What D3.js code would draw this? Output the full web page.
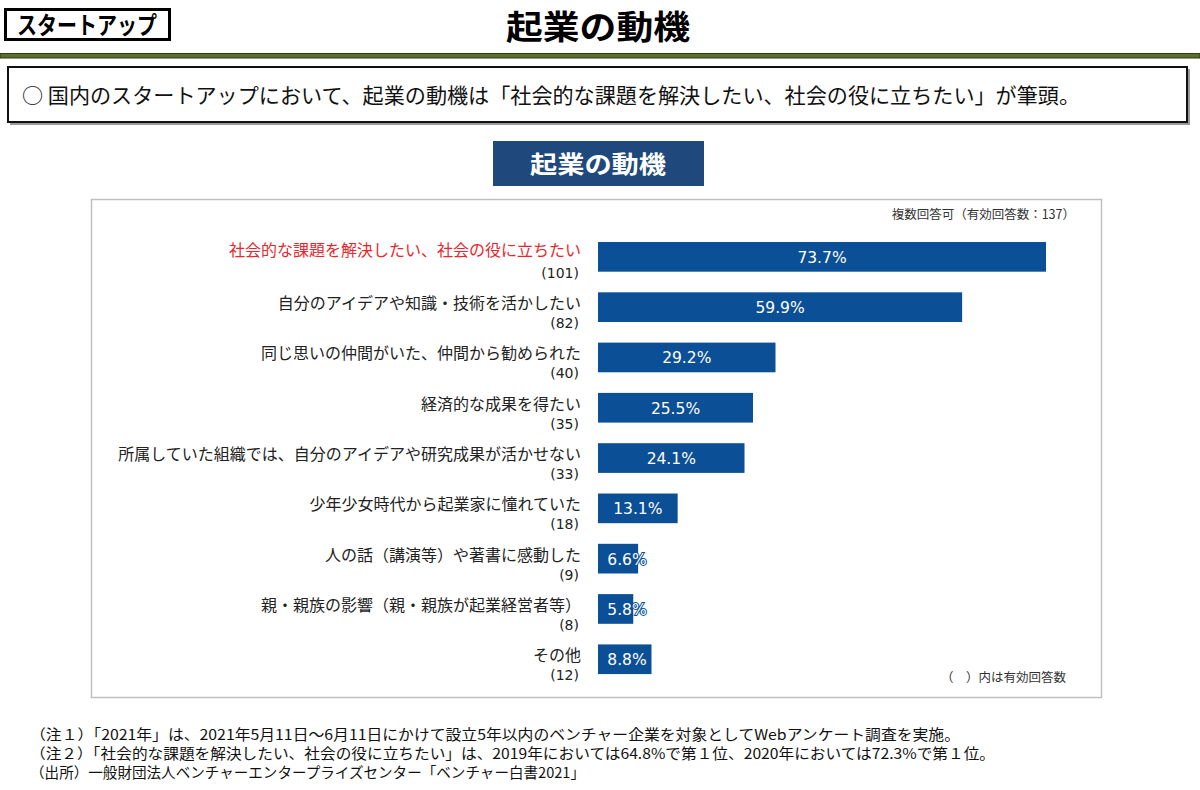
<!DOCTYPE html>
<html>
<head>
<meta charset="utf-8">
<script src="https://cdn.jsdelivr.net/npm/d3@7"></script>
<style>
    body { margin: 0; background: #fff; }
    svg { display: block; font-family: "Noto Sans CJK JP", sans-serif; }
</style>
</head>
<body>
<div id="chart"></div>
<script>
// motives, number of answers and share (%)
const categories = [
    "社会的な課題を解決したい、社会の役に立ちたい",
    "自分のアイデアや知識・技術を活かしたい",
    "同じ思いの仲間がいた、仲間から勧められた",
    "経済的な成果を得たい",
    "所属していた組織では、自分のアイデアや研究成果が活かせない",
    "少年少女時代から起業家に憧れていた",
    "人の話（講演等）や著書に感動した",
    "親・親族の影響（親・親族が起業経営者等）",
    "その他"
];
const counts = [101, 82, 40, 35, 33, 18, 9, 8, 12];
const values = [73.7, 59.9, 29.2, 25.5, 24.1, 13.1, 6.6, 5.8, 8.8];

const pageTag = "スタートアップ";
const pageTitle = "起業の動機";
const summary = "○ 国内のスタートアップにおいて、起業の動機は「社会的な課題を解決したい、社会の役に立ちたい」が筆頭。";
const chartTitle = "起業の動機";
const sampleNote = "複数回答可（有効回答数：137）";
const countNote = "（　）内は有効回答数";
const notes = [
    "（注１）「2021年」は、2021年5月11日～6月11日にかけて設立5年以内のベンチャー企業を対象としてWebアンケート調査を実施。",
    "（注２）「社会的な課題を解決したい、社会の役に立ちたい」は、2019年においては64.8%で第１位、2020年においては72.3%で第１位。",
    "（出所）一般財団法人ベンチャーエンタープライズセンター「ベンチャー白書2021」"
];

const W = 1200, H = 790;
const barColor = "#0b4f97";

const svg = d3.select("#chart").append("svg")
    .attr("width", W)
    .attr("height", H)
    .attr("viewBox", `0 0 ${W} ${H}`);

// ---- page header
svg.append("rect")
    .attr("x", 5.5).attr("y", 9.5).attr("width", 164).attr("height", 30)
    .attr("fill", "#fff").attr("stroke", "#000").attr("stroke-width", 3);
svg.append("text")
    .attr("x", 87).attr("y", 33.5)
    .attr("text-anchor", "middle")
    .attr("font-size", 24).attr("font-weight", 700)
    .attr("textLength", 140).attr("lengthAdjust", "spacingAndGlyphs")
    .text(pageTag);

svg.append("text")
    .attr("x", 598).attr("y", 39)
    .attr("text-anchor", "middle")
    .attr("font-size", 33).attr("font-weight", 700)
    .attr("textLength", 184).attr("lengthAdjust", "spacingAndGlyphs")
    .text(pageTitle);

svg.append("rect")
    .attr("x", 0).attr("y", 53.5).attr("width", W).attr("height", 4.5)
    .attr("fill", "#5b6e2e").attr("stroke", "#2e3a14").attr("stroke-width", 1);

// ---- summary box
svg.append("rect")
    .attr("x", 10).attr("y", 69).attr("width", 1180).attr("height", 56)
    .attr("fill", "#9a9a9a");
svg.append("rect")
    .attr("x", 8).attr("y", 67).attr("width", 1179).attr("height", 55)
    .attr("fill", "#fff").attr("stroke", "#111").attr("stroke-width", 2);
svg.append("text")
    .attr("x", 22).attr("y", 103)
    .attr("font-size", 21)
    .attr("fill", "#111")
    .attr("textLength", 1058).attr("lengthAdjust", "spacingAndGlyphs")
    .text(summary);

// ---- chart title
svg.append("rect")
    .attr("x", 493).attr("y", 141).attr("width", 211).attr("height", 45)
    .attr("fill", "#1f497d");
svg.append("text")
    .attr("x", 598).attr("y", 173)
    .attr("text-anchor", "middle")
    .attr("font-size", 24).attr("font-weight", 700)
    .attr("fill", "#fff")
    .attr("textLength", 136).attr("lengthAdjust", "spacingAndGlyphs")
    .text(chartTitle);

// ---- chart frame
svg.append("rect")
    .attr("x", 91.5).attr("y", 199.5).attr("width", 1010).attr("height", 498)
    .attr("fill", "#fff").attr("stroke", "#c0c0c0").attr("stroke-width", 1.5);

svg.append("text")
    .attr("x", 1075).attr("y", 219)
    .attr("text-anchor", "end")
    .attr("font-size", 12.5).attr("fill", "#333")
    .text(sampleNote);

svg.append("text")
    .attr("x", 1066).attr("y", 682)
    .attr("text-anchor", "end")
    .attr("font-size", 12.5).attr("fill", "#333")
    .text(countNote);

// ---- bars
const x = d3.scaleLinear().domain([0, 100]).range([598, 598 + 607.9]);
const y = d3.scaleBand()
    .domain(categories)
    .range([231.7, 684.4])
    .paddingInner(0.41)
    .paddingOuter(0.205);

const rows = categories.map((c, i) => ({cat: c, n: counts[i], v: values[i], i}));

const g = svg.append("g").attr("class", "bars");

g.selectAll("rect")
    .data(rows)
    .join("rect")
    .attr("x", x(0))
    .attr("y", (d) => y(d.cat))
    .attr("width", (d) => x(d.v) - x(0))
    .attr("height", y.bandwidth())
    .attr("fill", barColor);

g.selectAll(".val")
    .data(rows)
    .join("text")
    .attr("class", "val")
    .attr("x", (d) => Math.max((x(0) + x(d.v)) / 2, x(0) + 29))
    .attr("y", (d) => y(d.cat) + y.bandwidth() / 2 + 6)
    .attr("text-anchor", "middle")
    .attr("font-family", "'DejaVu Sans', sans-serif")
    .attr("font-size", 15.5)
    .attr("fill", "#fff")
    .attr("stroke", barColor)
    .attr("stroke-width", 2)
    .attr("paint-order", "stroke")
    .text((d) => `${d.v.toFixed(1)}%`);

// category labels + counts
const lab = svg.append("g").attr("class", "labels");

lab.selectAll(".cat")
    .data(rows)
    .join("text")
    .attr("class", "cat")
    .attr("x", 581)
    .attr("y", (d) => y(d.cat) + y.bandwidth() / 2 + (d.i === 0 ? -1 : 2))
    .attr("text-anchor", "end")
    .attr("font-size", 16)
    .attr("fill", (d) => (d.i === 0 ? "#e8262c" : "#222"))
    .text((d) => d.cat);

lab.selectAll(".cnt")
    .data(rows)
    .join("text")
    .attr("class", "cnt")
    .attr("x", 579)
    .attr("y", (d) => y(d.cat) + y.bandwidth() / 2 + 21)
    .attr("text-anchor", "end")
    .attr("font-family", "'DejaVu Sans', sans-serif")
    .attr("font-size", 14)
    .attr("fill", "#222")
    .text((d) => `(${d.n})`);

// ---- footnotes
const noteWidths = [930, 965, 555];
svg.append("g").attr("class", "notes")
    .selectAll("text")
    .data(notes)
    .join("text")
    .attr("x", 30)
    .attr("y", (d, i) => 740 + i * 19)
    .attr("font-size", 14.5)
    .attr("fill", "#111")
    .attr("textLength", (d, i) => noteWidths[i])
    .attr("lengthAdjust", "spacingAndGlyphs")
    .text((d) => d);
</script>
</body>
</html>
